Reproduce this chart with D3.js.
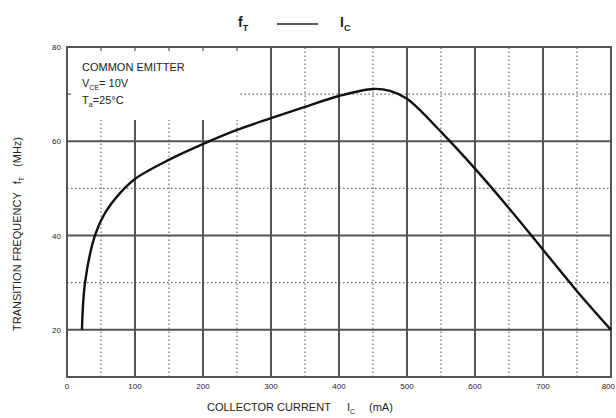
<!DOCTYPE html>
<html lang="en">
<head>
<meta charset="UTF-8">
<title>fT - IC</title>
<script src="https://d3js.org/d3.v7.min.js"></script>
<style>
    body { margin: 0; background: #fff; }
    text { font-family: "Liberation Sans", Arial, sans-serif; fill: #222; }
    .tick-label { font-size: 8px; }
    .axis-title { font-size: 11px; }
</style>
</head>
<body>
<div id="chart"></div>
<script>
    // collector current (mA) and transition frequency (MHz)
    const currentMA = [22, 26.5, 41, 56, 78, 100, 149, 203, 250, 300, 350, 400, 450, 475, 500, 550, 600, 650, 700, 750, 800];
    const freqMHz   = [20, 30, 40, 44.8, 49, 52, 56, 59.6, 62.4, 64.9, 67.3, 69.6, 71.1, 70.7, 69.0, 62, 54.2, 45.8, 37, 28.2, 20];

    const xMajor = [0, 100, 200, 300, 400, 500, 600, 700, 800];
    const xMinor = [50, 150, 250, 350, 450, 550, 650, 750];
    const yMajor = [20, 40, 60, 80];
    const yMinor = [30, 50, 70];

    const width = 616, height = 418;
    const margin = { top: 47, right: 5, bottom: 41, left: 67 };

    const svg = d3.select("#chart").append("svg")
        .attr("width", width)
        .attr("height", height);

    const x = d3.scaleLinear().domain([0, 800]).range([margin.left, width - margin.right]);
    const y = d3.scaleLinear().domain([10, 80]).range([height - margin.bottom, margin.top]);

    // area of the legend box where the grid is left out
    const boxX = 255, boxY = 64.5;

    const grid = svg.append("g");

    // dotted grid
    grid.selectAll(".vminor").data(xMinor).enter().append("line")
        .attr("x1", d => x(d)).attr("x2", d => x(d))
        .attr("y1", y(10)).attr("y2", d => d < boxX ? y(boxY) : y(80))
        .attr("stroke", "#666").attr("stroke-width", 1.2).attr("stroke-dasharray", "1.5,2.5");
    grid.selectAll(".hminor").data(yMinor).enter().append("line")
        .attr("y1", d => y(d)).attr("y2", d => y(d))
        .attr("x1", d => d > boxY ? x(boxX) : x(0)).attr("x2", x(800))
        .attr("stroke", "#666").attr("stroke-width", 1.2).attr("stroke-dasharray", "1.5,2.5");

    // solid grid
    grid.selectAll(".vmajor").data(xMajor.slice(1, -1)).enter().append("line")
        .attr("x1", d => x(d)).attr("x2", d => x(d))
        .attr("y1", y(10)).attr("y2", d => d < boxX ? y(boxY) : y(80))
        .attr("stroke", "#555").attr("stroke-width", 2);
    grid.selectAll(".hmajor").data(yMajor.slice(0, -1)).enter().append("line")
        .attr("y1", d => y(d)).attr("y2", d => y(d))
        .attr("x1", x(0)).attr("x2", x(800))
        .attr("stroke", "#555").attr("stroke-width", 2);

    // small marks on the frame where lines are hidden
    grid.selectAll(".topmark").data(xMinor.concat(xMajor).filter(d => d > 0 && d < boxX)).enter().append("line")
        .attr("x1", d => x(d)).attr("x2", d => x(d))
        .attr("y1", y(80)).attr("y2", y(80) + 4)
        .attr("stroke", "#555").attr("stroke-width", 1.2);
    grid.selectAll(".leftmark").data(yMinor.filter(d => d > boxY)).enter().append("line")
        .attr("y1", d => y(d)).attr("y2", d => y(d))
        .attr("x1", x(0)).attr("x2", x(0) + 4)
        .attr("stroke", "#555").attr("stroke-width", 1.2);

    // frame
    svg.append("rect")
        .attr("x", x(0)).attr("y", y(80))
        .attr("width", x(800) - x(0)).attr("height", y(10) - y(80))
        .attr("fill", "none").attr("stroke", "#555").attr("stroke-width", 2);

    // curve
    const pts = currentMA.map((c, i) => [c, freqMHz[i]]);
    svg.append("path")
        .datum(pts)
        .attr("fill", "none")
        .attr("stroke", "#111")
        .attr("stroke-width", 2.4)
        .attr("d", d3.line().x(d => x(d[0])).y(d => y(d[1])).curve(d3.curveCatmullRom.alpha(0.5)));

    // tick labels (last one nudged so it stays on the page)
    svg.append("g").selectAll("text").data(xMajor).enter().append("text")
        .attr("class", "tick-label")
        .attr("x", d => d === 800 ? width - 1 : x(d)).attr("y", y(10) + 12)
        .attr("text-anchor", d => d === 800 ? "end" : "middle")
        .text(d => d);
    svg.append("g").selectAll("text").data(yMajor).enter().append("text")
        .attr("class", "tick-label")
        .attr("x", x(0) - 6).attr("y", d => y(d) + 3)
        .attr("text-anchor", "end")
        .text(d => d);

    // title
    const title = svg.append("text").attr("y", 27).attr("font-size", 14).attr("font-weight", "bold");
    title.append("tspan").attr("x", 238).text("f");
    title.append("tspan").attr("font-size", 9).attr("dy", 4).text("T");
    svg.append("line").attr("x1", 277).attr("x2", 318).attr("y1", 24).attr("y2", 24)
        .attr("stroke", "#222").attr("stroke-width", 1.5);
    const title2 = svg.append("text").attr("y", 27).attr("font-size", 14).attr("font-weight", "bold");
    title2.append("tspan").attr("x", 340).text("I");
    title2.append("tspan").attr("font-size", 9).attr("dy", 4).text("C");

    // legend text
    const note = svg.append("g").attr("font-size", 11);
    note.append("text").attr("x", 82).attr("y", 71).text("COMMON EMITTER");
    const v = note.append("text").attr("x", 82).attr("y", 87);
    v.append("tspan").text("V");
    v.append("tspan").attr("font-size", 7).attr("dy", 3).text("CE");
    v.append("tspan").attr("dy", -3).text("= 10V");
    const t = note.append("text").attr("x", 82).attr("y", 104);
    t.append("tspan").text("T");
    t.append("tspan").attr("font-size", 7).attr("dy", 3).text("a");
    t.append("tspan").attr("dy", -3).text("=25°C");

    // x axis title
    const xt = svg.append("text").attr("class", "axis-title").attr("x", 207).attr("y", 411);
    xt.append("tspan").text("COLLECTOR CURRENT");
    xt.append("tspan").attr("dx", 16).text("I");
    xt.append("tspan").attr("font-size", 7).attr("dy", 3).text("C");
    xt.append("tspan").attr("dx", 14).attr("dy", -3).text("(mA)");

    // y axis title
    const yt = svg.append("text").attr("class", "axis-title")
        .attr("transform", "translate(21,331) rotate(-90)");
    yt.append("tspan").text("TRANSITION FREQUENCY");
    yt.append("tspan").attr("dx", 8).text("f");
    yt.append("tspan").attr("font-size", 7).attr("dy", 3).text("T");
    yt.append("tspan").attr("dx", 10).attr("dy", -3).text("(MHz)");
</script>
</body>
</html>
